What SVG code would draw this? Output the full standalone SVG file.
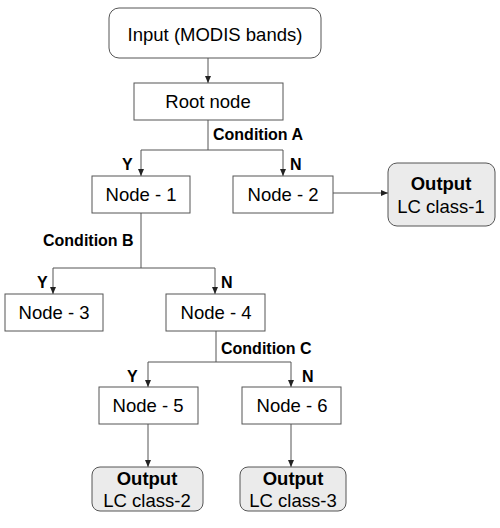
<svg xmlns="http://www.w3.org/2000/svg" width="500" height="528" viewBox="0 0 500 528">
<defs>
<marker id="ah" markerWidth="8" markerHeight="8" refX="7" refY="4" orient="auto" markerUnits="userSpaceOnUse">
<path d="M0,1 L7,4 L0,7 Z" fill="#222"/>
</marker>
<style>
.box{fill:#fff;stroke:#555;stroke-width:1}
.out{fill:#ebebeb;stroke:#555;stroke-width:1}
.t{font-family:"Liberation Sans",Arial,sans-serif;font-size:18.5px;fill:#000;text-anchor:middle}
.b{font-family:"Liberation Sans",Arial,sans-serif;font-size:16px;font-weight:bold;fill:#000}
.ob{font-weight:bold}
.ln{fill:none;stroke:#555;stroke-width:1}
.ar{fill:none;stroke:#555;stroke-width:1;marker-end:url(#ah)}
</style>
</defs>
<rect width="500" height="528" fill="#fff"/>
<g id="connectors">
<path class="ar" d="M208,58 V83"/>
<path class="ln" d="M208,120 V150 M141,150 H283"/>
<path class="ar" d="M141,150 V176"/>
<path class="ar" d="M283,150 V176"/>
<path class="ar" d="M333,193 H388"/>
<path class="ln" d="M141,213 V268 M53,268 H215"/>
<path class="ar" d="M53,268 V294"/>
<path class="ar" d="M215,268 V294"/>
<path class="ln" d="M216,331 V362 M148,362 H291"/>
<path class="ar" d="M148,362 V387"/>
<path class="ar" d="M291,362 V387"/>
<path class="ar" d="M148,424 V467"/>
<path class="ar" d="M291,424 V467"/>
</g>
<g id="labels">
<text class="b" x="213" y="140">Condition A</text>
<text class="b" x="122" y="170">Y</text>
<text class="b" x="290" y="170">N</text>
<text class="b" x="43" y="246">Condition B</text>
<text class="b" x="37" y="288">Y</text>
<text class="b" x="221" y="288">N</text>
<text class="b" x="221" y="354">Condition C</text>
<text class="b" x="127" y="382">Y</text>
<text class="b" x="302" y="382">N</text>
</g>
<g id="input"><rect class="box" x="109" y="8" width="212" height="50" rx="10"/><text class="t" x="215" y="41">Input (MODIS bands)</text></g>
<g id="root"><rect class="box" x="134" y="83" width="149" height="37"/><text class="t" x="208" y="108">Root node</text></g>
<g id="node1"><rect class="box" x="92" y="176" width="98" height="37"/><text class="t" x="141" y="201">Node - 1</text></g>
<g id="node2"><rect class="box" x="233" y="176" width="100" height="37"/><text class="t" x="283" y="201">Node - 2</text></g>
<g id="out1"><rect class="out" x="388" y="163" width="107" height="63" rx="9"/><text class="t ob" x="441" y="190">Output</text><text class="t" x="441" y="213">LC class-1</text></g>
<g id="node3"><rect class="box" x="5" y="294" width="98" height="37"/><text class="t" x="54" y="319">Node - 3</text></g>
<g id="node4"><rect class="box" x="166" y="294" width="99" height="37"/><text class="t" x="216" y="319">Node - 4</text></g>
<g id="node5"><rect class="box" x="99" y="387" width="99" height="37"/><text class="t" x="148" y="412">Node - 5</text></g>
<g id="node6"><rect class="box" x="242" y="387" width="99" height="37"/><text class="t" x="292" y="412">Node - 6</text></g>
<g id="out2"><rect class="out" x="92" y="467" width="111" height="44" rx="8"/><text class="t ob" x="147" y="485">Output</text><text class="t" x="147" y="507">LC class-2</text></g>
<g id="out3"><rect class="out" x="240" y="467" width="106" height="44" rx="8"/><text class="t ob" x="293" y="485">Output</text><text class="t" x="293" y="507">LC class-3</text></g>
</svg>
